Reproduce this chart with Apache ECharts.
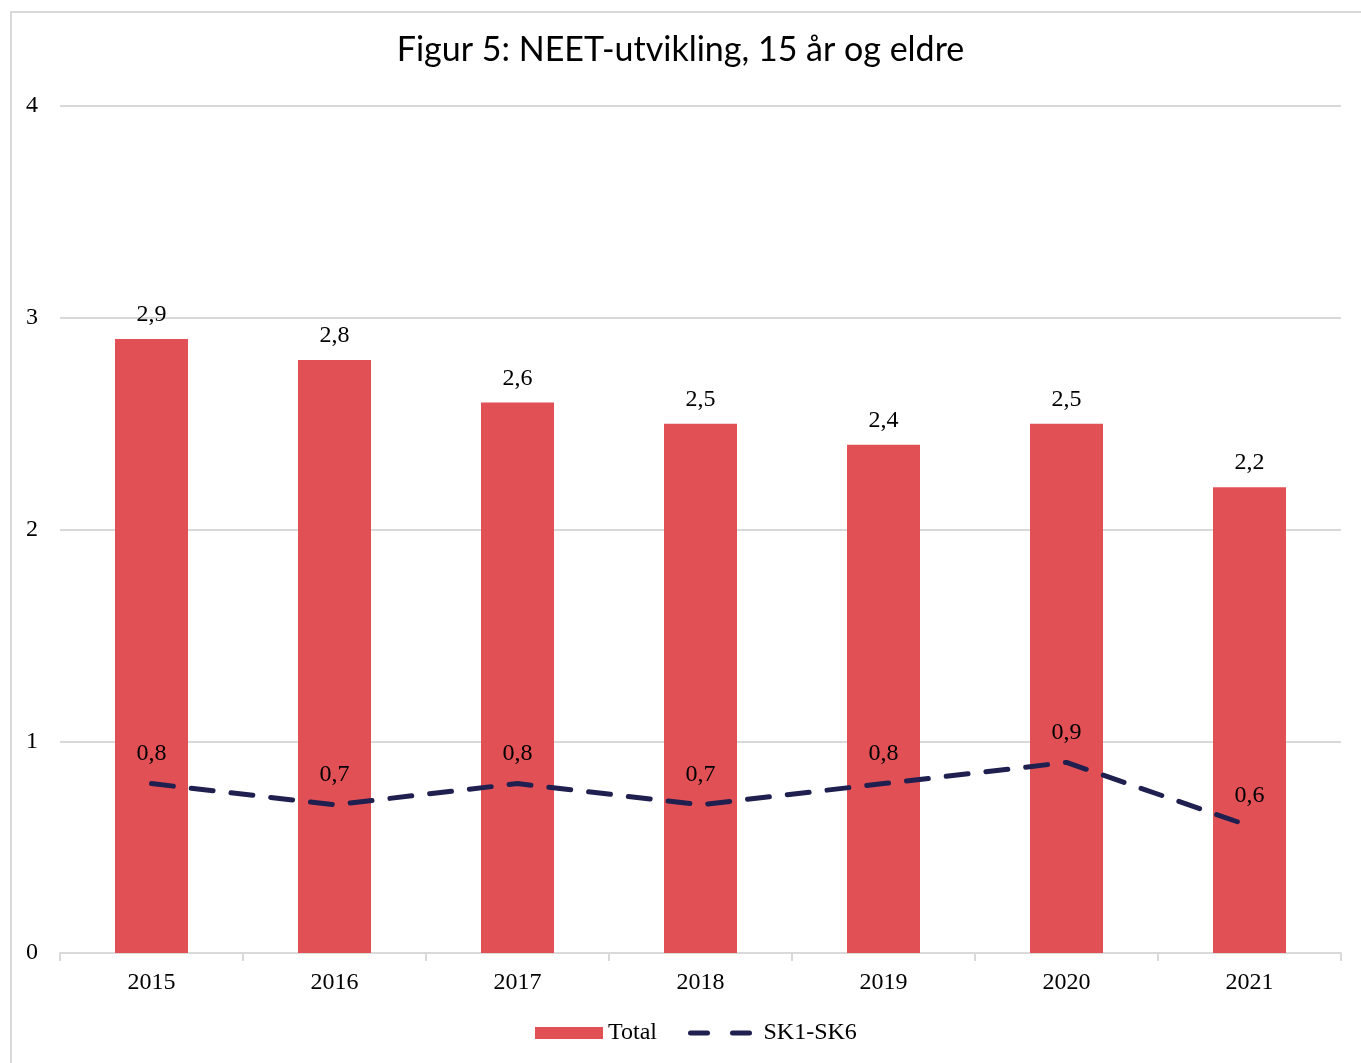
<!DOCTYPE html>
<html>
<head>
<meta charset="utf-8">
<script src="https://cdn.jsdelivr.net/npm/echarts@6/dist/echarts.min.js"></script>
<style>
  html, body { margin: 0; padding: 0; background: #fff; }
  #chart { width: 1361px; height: 1063px; }
</style>
</head>
<body>
<div id="chart"></div>
<script>
const years = ['2015', '2016', '2017', '2018', '2019', '2020', '2021'];
const total = [2.9, 2.8, 2.6, 2.5, 2.4, 2.5, 2.2];
const sk1sk6 = [0.8, 0.7, 0.8, 0.7, 0.8, 0.9, 0.6];

const serif = '"Liberation Serif", "Times New Roman", serif';
const comma = (p) => String(p.value).replace('.', ',');
const navy = '#1f1f50';
// two rounded dashes for the SK1-SK6 legend key
const dashIcon = 'path://M2.5,0 h17 a2.5,2.5 0 0 1 0,5 h-17 a2.5,2.5 0 0 1 0,-5 z M44.5,0 h17 a2.5,2.5 0 0 1 0,5 h-17 a2.5,2.5 0 0 1 0,-5 z';

const chart = echarts.init(document.getElementById('chart'));
chart.setOption({
  backgroundColor: '#fff',
  animation: false,
  title: {
    text: 'Figur 5: NEET-utvikling, 15 år og eldre',
    left: 'center',
    top: 28,
    textStyle: {
      fontFamily: 'Lato, "Open Sans", sans-serif',
      fontWeight: 'normal',
      fontSize: 34,
      color: '#000',
    },
  },
  graphic: [
    {
      type: 'rect',
      shape: { x: 11, y: 12, width: 1360, height: 1060 },
      style: { fill: 'none', stroke: '#d9d9d9', lineWidth: 2 },
      silent: true,
    },
  ],
  grid: {
    left: 60,
    right: 20,
    top: 106,
    bottom: 110,
  },
  legend: [
    {
      left: 530,
      top: 1016,
      itemWidth: 68,
      itemHeight: 12,
      textStyle: { fontFamily: serif, fontSize: 24, color: '#000' },
      data: [{ name: 'Total', icon: 'rect' }],
    },
    {
      left: 683,
      top: 1016,
      itemWidth: 65,
      itemHeight: 5,
      textStyle: { fontFamily: serif, fontSize: 24, color: '#000', padding: [0, 0, 0, 6] },
      data: [{ name: 'SK1-SK6', icon: dashIcon, itemStyle: { color: navy } }],
    },
  ],
  xAxis: {
    type: 'category',
    data: years,
    axisLine: { lineStyle: { color: '#d9d9d9', width: 2 } },
    axisTick: { show: true, length: 8, lineStyle: { color: '#d9d9d9', width: 2 } },
    axisLabel: { margin: 18, fontFamily: serif, fontSize: 24, color: '#000' },
  },
  yAxis: {
    type: 'value',
    min: 0,
    max: 4,
    interval: 1,
    axisLine: { show: false },
    axisTick: { show: false },
    axisLabel: { margin: 22, fontFamily: serif, fontSize: 24, color: '#000' },
    splitLine: { lineStyle: { color: '#d9d9d9', width: 2 } },
  },
  series: [
    {
      name: 'Total',
      type: 'bar',
      data: total,
      barWidth: 73,
      itemStyle: { color: '#e05055' },
      label: {
        show: true,
        position: 'top',
        distance: 12,
        formatter: comma,
        fontFamily: serif,
        fontSize: 24,
        color: '#000',
      },
    },
    {
      name: 'SK1-SK6',
      type: 'line',
      data: sk1sk6,
      symbol: 'circle',
      symbolSize: 0,
      showSymbol: true,
      lineStyle: { color: navy, width: 5, type: [22, 18], cap: 'round' },
      itemStyle: { color: navy },
      label: {
        show: true,
        position: 'top',
        distance: 18,
        formatter: comma,
        fontFamily: serif,
        fontSize: 24,
        color: '#000',
      },
    },
  ],
});
</script>
</body>
</html>
